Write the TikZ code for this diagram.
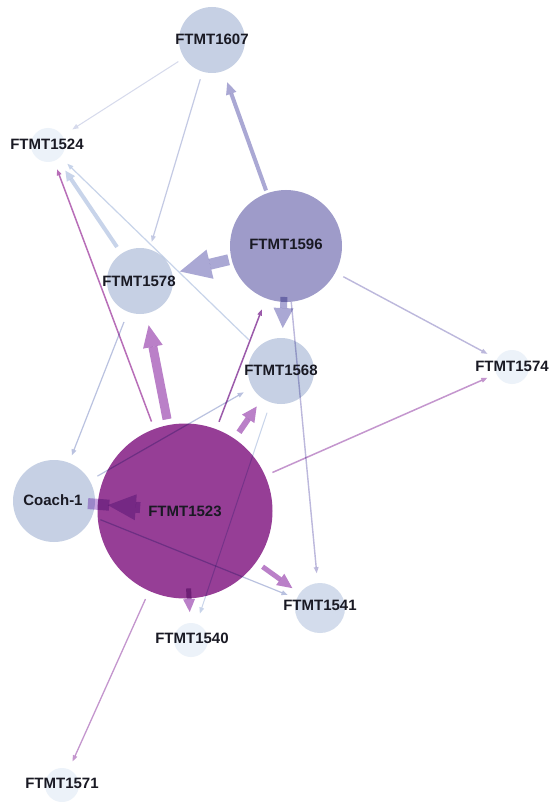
\documentclass[tikz,border=0pt]{standalone}
\usepackage{fontspec}
\setmainfont{Liberation Sans}
\usetikzlibrary{arrows.meta}

% node fills
\definecolor{hubPurple}{RGB}{150,62,150}
\definecolor{hubLavender}{RGB}{158,155,201}
\definecolor{midBlue}{RGB}{198,208,228}
\definecolor{paleBlue}{RGB}{211,220,236}
\definecolor{tinyBlue}{RGB}{236,242,249}
\definecolor{labelInk}{RGB}{25,25,35}
% edge colours (as seen on white)
\definecolor{eLav}{RGB}{170,168,212}
\definecolor{eLavThin}{RGB}{188,184,220}
\definecolor{eGhost}{RGB}{214,218,236}
\definecolor{eMist}{RGB}{196,202,228}
\definecolor{eSky}{RGB}{200,212,234}
\definecolor{eSlate}{RGB}{186,194,224}
\definecolor{ePlum}{RGB}{184,110,184}
\definecolor{eDeepPlum}{RGB}{155,90,170}
\definecolor{eOrchid}{RGB}{196,150,206}
\definecolor{eThickPlum}{RGB}{186,128,200}
\definecolor{eHeavyPlum}{RGB}{200,165,225}

\begin{document}
\begin{tikzpicture}[x=1pt,y=-1pt,
  vertex/.style={circle,inner sep=0pt,outer sep=0pt,draw=none},
  lbl/.style={font=\fontsize{15}{17}\selectfont\bfseries,text=labelInk,inner sep=0pt},
  link/.style={line cap=butt,line join=miter},
  thin tip/.style={-{Triangle[length=6pt,width=5pt,line width=0pt]}},
  head/.style 2 args={-{Triangle[length=#1,width=#2,line width=0pt]}},
]
\useasboundingbox (0,0) rectangle (553,802);
\fill[white] (0,0) rectangle (553,802);

% ---- nodes ----
\node[vertex,fill=midBlue,minimum size=66pt]     (n1607) at (212,40)  {};
\node[vertex,fill=tinyBlue,minimum size=34pt]    (n1524) at (48,145)  {};
\node[vertex,fill=hubLavender,minimum size=112pt](n1596) at (286,246) {};
\node[vertex,fill=midBlue,minimum size=66pt]     (n1578) at (140,281) {};
\node[vertex,fill=midBlue,minimum size=66pt]     (n1568) at (281,371) {};
\node[vertex,fill=tinyBlue,minimum size=34pt]    (n1574) at (512,367) {};
\node[vertex,fill=midBlue,minimum size=82pt]     (coach) at (54,501)  {};
\node[vertex,fill=hubPurple,minimum size=175pt]  (n1523) at (185,511) {};
\node[vertex,fill=paleBlue,minimum size=50pt]    (n1541) at (320,608) {};
\node[vertex,fill=tinyBlue,minimum size=34pt]    (n1540) at (191,640) {};
\node[vertex,fill=tinyBlue,minimum size=34pt]    (n1571) at (62,785)  {};

% ---- connectors (multiplied over the discs they cross) ----
\begin{scope}[blend mode=multiply]
  % out of FTMT1596
  \draw[link,line width=4pt,draw=eLav,head={12pt}{11pt},shorten >=12pt,shorten <=3pt] (n1596) -- (n1607);
  \draw[link,line width=11pt,draw=eLav,head={31pt}{30pt},shorten >=8pt,shorten <=3pt] (n1596) -- (n1578);
  \draw[link,line width=7pt,draw=eLav,head={20pt}{20pt},shorten >=10pt,shorten <=-5pt] (n1596) -- (n1568);
  \draw[link,line width=1.4pt,draw=eLavThin,thin tip,shorten >=11pt,shorten <=9pt] (n1596) -- (n1574);
  \draw[link,line width=1.4pt,draw=eLavThin,thin tip,shorten >=10pt] (n1596) -- (n1541);
  % out of FTMT1607
  \draw[link,line width=1pt,draw=eGhost,thin tip,shorten >=12pt,shorten <=7pt] (n1607) -- (n1524);
  \draw[link,line width=1.2pt,draw=eMist,thin tip,shorten >=8pt,shorten <=8pt] (n1607) -- (n1578);
  % into FTMT1524
  \draw[link,line width=4pt,draw=eSky,head={10pt}{10pt},shorten >=14pt,shorten <=8pt] (n1578) -- (n1524);
  \draw[link,line width=1.2pt,draw=eSky,thin tip,shorten >=10pt,shorten <=12pt] (n1568) -- (n1524);
  \draw[link,line width=1.5pt,draw=ePlum,thin tip,shorten >=9pt,shorten <=8pt] (n1523) -- (n1524);
  % out of FTMT1523
  \draw[link,line width=9pt,draw=eThickPlum,head={22pt}{20pt},shorten >=12pt,shorten <=6pt] (n1523) -- (n1578);
  \draw[link,line width=6pt,draw=eThickPlum,head={15pt}{15pt},shorten >=10pt,shorten <=8pt] (n1523) -- (n1568);
  \draw[link,line width=1.5pt,draw=eDeepPlum,thin tip,shorten >=12pt,shorten <=8pt] (n1523) -- (n1596);
  \draw[link,line width=1.5pt,draw=eOrchid,thin tip,shorten >=10pt,shorten <=8pt] (n1523) -- (n1574);
  \draw[link,line width=5pt,draw=eThickPlum,head={15pt}{14pt},shorten >=9pt,shorten <=8pt] (n1523) -- (n1541);
  \draw[link,line width=5pt,draw=eThickPlum,head={13pt}{12pt},shorten >=11pt,shorten <=-10pt] (n1523) -- (n1540);
  \draw[link,line width=1.3pt,draw=eOrchid,thin tip,shorten >=9pt,shorten <=9pt] (n1523) -- (n1571);
  % FTMT1523 to Coach-1: heavy arrow whose band runs on into Coach-1
  \draw[link,line width=11pt,draw=eHeavyPlum,head={28pt}{26pt},shorten <=45pt,shorten >=54pt] (n1523.center) -- (coach.center);
  \draw[link,line width=11pt,draw=eHeavyPlum,shorten <=76pt,shorten >=34pt] (n1523.center) -- (coach.center);
  % Coach-1 and the rest
  \draw[link,line width=1.2pt,draw=eSlate,thin tip,shorten >=8pt,shorten <=11pt] (n1578) -- (coach);
  \draw[link,line width=1.2pt,draw=eSlate,thin tip,shorten >=10pt,shorten <=9pt] (coach) -- (n1568);
  \draw[link,line width=1.2pt,draw=eSlate,thin tip,shorten >=10pt,shorten <=9pt] (coach) -- (n1541);
  \draw[link,line width=1pt,draw=eSky,thin tip,shorten >=11pt,shorten <=11pt] (n1568) -- (n1540);
\end{scope}

% ---- labels ----
\node[lbl] (l1607) at (212,39)  {FTMT1607};
\node[lbl] (l1524) at (47,144)  {FTMT1524};
\node[lbl] (l1596) at (286,244) {FTMT1596};
\node[lbl] (l1578) at (139,281) {FTMT1578};
\node[lbl] (l1568) at (281,370) {FTMT1568};
\node[lbl] (l1574) at (512,366) {FTMT1574};
\node[lbl] (lcoach) at (53,500) {Coach-1};
\node[lbl] (l1523) at (185,511) {FTMT1523};
\node[lbl] (l1541) at (320,605) {FTMT1541};
\node[lbl] (l1540) at (192,638) {FTMT1540};
\node[lbl] (l1571) at (62,783)  {FTMT1571};
\end{tikzpicture}
\end{document}
